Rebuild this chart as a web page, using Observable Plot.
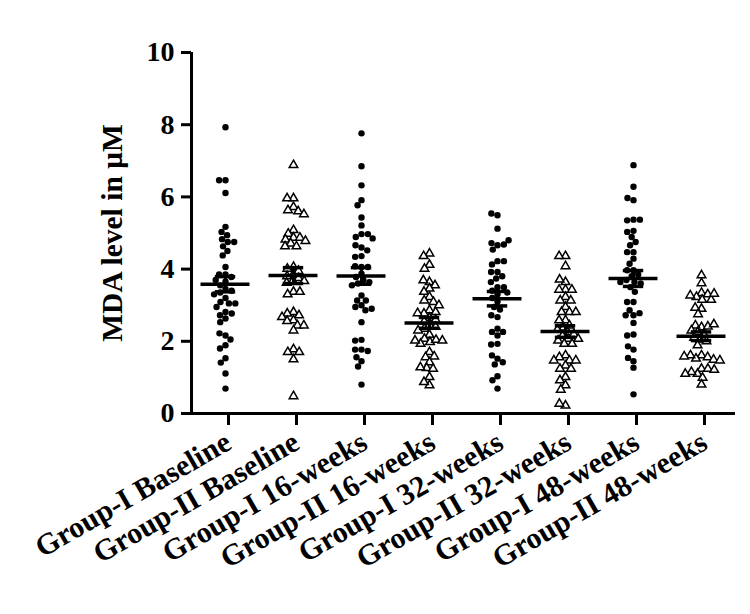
<!DOCTYPE html>
<html><head><meta charset="utf-8">
<script src="https://cdn.jsdelivr.net/npm/d3@7"></script>
<script src="https://cdn.jsdelivr.net/npm/@observablehq/plot@0.6"></script>
<style>body{margin:0;background:#fff}</style>
</head><body><div id="chart"></div>
<script>
const categories = ["Group-I Baseline","Group-II Baseline","Group-I 16-weeks","Group-II 16-weeks","Group-I 32-weeks","Group-II 32-weeks","Group-I 48-weeks","Group-II 48-weeks"];

const g1Baseline = [7.93,6.46,6.46,6.11,5.17,5.03,4.94,4.83,4.75,4.63,4.75,4.50,4.38,4.06,3.85,3.85,3.78,3.70,3.65,3.55,3.45,3.40,3.35,3.30,3.20,3.09,3.05,3.05,2.95,2.81,2.72,2.77,2.63,2.53,2.16,2.22,2.05,1.89,1.80,1.53,1.41,1.11,0.69];
const g2Baseline = [6.88,5.96,5.96,5.72,5.63,5.60,5.52,5.08,4.98,4.87,4.87,4.82,4.78,4.71,4.63,4.63,4.06,4.01,3.95,3.85,3.80,3.75,3.67,3.67,3.62,3.37,3.30,3.37,2.81,2.77,2.72,2.67,2.58,2.56,2.44,2.44,2.30,1.78,1.70,1.70,1.50,0.48];
const g1Week16 = [7.76,6.85,6.32,5.91,5.77,5.43,5.21,4.97,4.89,4.97,4.85,4.60,4.66,4.52,4.36,4.34,4.06,4.08,4.06,3.87,3.78,3.70,3.64,3.60,3.55,3.27,3.00,3.13,3.13,2.95,2.86,2.90,2.53,2.04,2.02,1.77,1.77,1.73,1.45,1.56,1.30,0.80];
const g2Week16 = [4.43,4.36,4.12,4.01,3.64,3.69,3.55,3.46,3.37,3.23,3.13,3.09,3.00,2.86,2.77,2.81,2.78,2.65,2.60,2.55,2.45,2.40,2.35,2.30,2.18,2.07,1.98,2.04,1.93,2.02,2.02,1.70,1.56,1.58,1.42,1.26,1.24,1.28,1.01,0.78,0.87];
const g1Week32 = [5.49,5.54,5.12,4.66,4.72,4.68,4.80,4.54,4.22,4.13,4.22,3.92,3.92,3.80,3.74,3.64,3.50,3.50,3.40,3.35,3.30,3.20,3.10,2.95,2.88,2.67,2.72,2.35,2.26,2.26,2.16,1.93,1.91,1.52,1.61,1.36,1.42,1.03,0.92,0.69];
const g2Week32 = [4.36,4.36,4.08,3.64,3.71,3.43,3.43,3.43,3.23,3.13,3.13,2.95,2.81,2.81,2.81,2.58,2.58,2.44,2.38,2.32,2.25,2.20,2.15,2.07,2.02,2.07,1.93,1.93,1.61,1.56,1.47,1.33,1.47,1.47,1.24,1.24,1.01,0.92,0.78,0.66,0.22,0.27];
const g1Week48 = [6.88,6.28,5.91,5.97,5.37,5.35,5.37,5.06,4.89,5.03,4.75,4.47,4.47,4.66,4.29,4.15,3.97,3.97,3.85,3.80,3.70,3.64,3.60,3.64,3.50,3.37,3.09,3.09,2.72,2.86,2.78,2.72,2.51,2.19,2.16,1.77,1.86,1.45,1.54,1.27,0.53];
const g2Week48 = [3.83,3.61,3.34,3.23,3.30,3.15,3.27,3.15,3.32,2.90,2.93,2.75,2.39,2.44,2.41,2.47,2.30,2.25,2.20,2.10,2.05,2.00,1.89,1.61,1.52,1.56,1.61,1.49,1.58,1.47,1.24,1.10,1.24,1.15,1.21,1.10,0.99,0.80];

const means = [3.58,3.82,3.81,2.51,3.18,2.27,3.74,2.14];
const sems  = [0.21,0.22,0.23,0.15,0.20,0.16,0.22,0.12];
const yTicks = [0,2,4,6,8,10];

const series = [g1Baseline,g2Baseline,g1Week16,g2Week16,g1Week32,g2Week32,g1Week48,g2Week48];
const rows = categories.flatMap((c,i) => series[i].map(v => ({group: c, value: v, kind: c.startsWith("Group-II") ? "II" : "I"})));
const stats = categories.map((c,i) => ({group: c, mean: means[i], sem: sems[i]}));

const font = "'Liberation Serif', 'Times New Roman', serif";

const chart = Plot.plot({
  width: 750, height: 614,
  marginLeft: 190, marginRight: 15, marginTop: 52, marginBottom: 201,
  style: {fontFamily: font, fontWeight: "bold", color: "black", background: "white"},
  fx: {domain: categories, padding: 0, label: null},
  x: {domain: [-1, 1], axis: null},
  y: {domain: [0, 10]},
  marks: [
    Plot.axisY({ticks: yTicks, tickSize: 10, tickPadding: 7, strokeWidth: 3, fontSize: 28, fontWeight: "bold", fontFamily: font,
      label: null, tickFormat: d => String(d)}),
    Plot.axisY({ticks: [], tickSize: 0, fontSize: 29.5, fontWeight: "bold", fontFamily: font,
      label: "MDA level in μM", labelArrow: "none", labelAnchor: "center", labelOffset: 90}),
    Plot.axisFx({anchor: "bottom", tickRotate: -30, tickSize: 12, strokeWidth: 3, tickPadding: 14, dx: 3, fontSize: 30, fontWeight: "bold", fontFamily: font, label: null}),
    Plot.ruleY([0], {strokeWidth: 3}),
    Plot.ruleX(stats.slice(0, 1), {fx: "group", x: -1, y1: 0, y2: 10, strokeWidth: 3}),
    Plot.dot(rows.filter(d => d.kind === "I"), Plot.dodgeX({anchor: "middle", padding: 0}, {fx: "group", y: "value", r: 3.2, fill: "black"})),
    Plot.dot(rows.filter(d => d.kind === "II"), Plot.dodgeX({anchor: "middle", padding: 0}, {fx: "group", y: "value", r: 3.2, symbol: "triangle", fill: "white", stroke: "black", strokeWidth: 1.5})),
    Plot.ruleY(stats, {fx: "group", y: "mean", x1: -0.72, x2: 0.72, strokeWidth: 3.5}),
    Plot.ruleX(stats, {fx: "group", x: 0, y1: d => d.mean - d.sem, y2: d => d.mean + d.sem, strokeWidth: 3}),
    Plot.ruleY(stats, {fx: "group", y: d => d.mean + d.sem, x1: -0.3, x2: 0.3, strokeWidth: 3.5}),
    Plot.ruleY(stats, {fx: "group", y: d => d.mean - d.sem, x1: -0.3, x2: 0.3, strokeWidth: 3.5})
  ]
});
document.getElementById("chart").appendChild(chart);
</script>
</body></html>
